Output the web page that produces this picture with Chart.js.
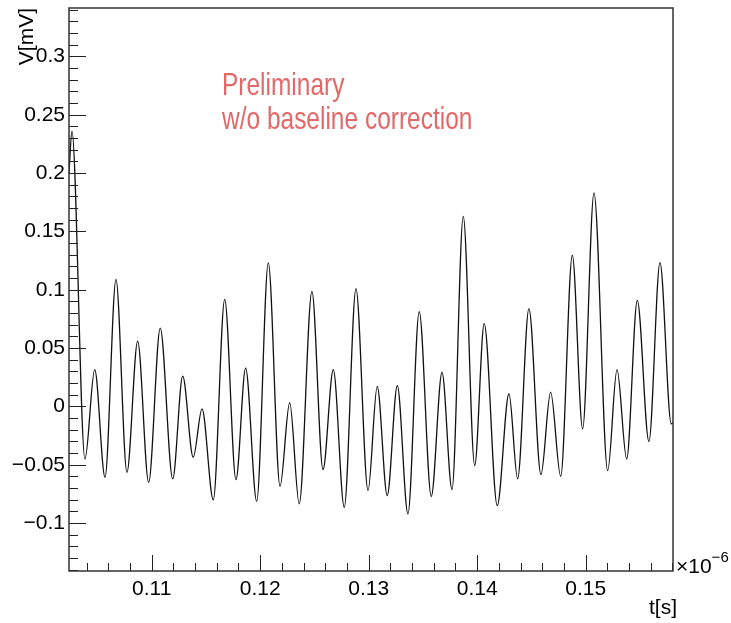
<!DOCTYPE html>
<html>
<head>
<meta charset="utf-8">
<title>Waveform</title>
<script src="https://cdn.jsdelivr.net/npm/chart.js@4.4.1/dist/chart.umd.min.js"></script>
<style>
    html, body { margin: 0; padding: 0; background: #fff; }
    #wrap { width: 731px; height: 623px; }
</style>
</head>
<body>
<div id="wrap"><canvas id="waveChart" width="731" height="623"></canvas></div>
<script>
/* -------------------------------
   Data (time in units of 1e-6 s, voltage in mV)
--------------------------------*/
const tMicro = [
    0.10238, 0.10265, 0.10385, 0.10475, 0.10570, 0.10671, 0.10772, 0.10871, 0.10972, 0.11079,
    0.11194, 0.11286, 0.11383, 0.11464, 0.11568, 0.11673, 0.11777, 0.11866, 0.11968, 0.12075,
    0.12183, 0.12272, 0.12360, 0.12477, 0.12579, 0.12674, 0.12775, 0.12883, 0.12994, 0.13079,
    0.13171, 0.13264, 0.13362, 0.13466, 0.13577, 0.13676, 0.13768, 0.13872, 0.13977, 0.14065,
    0.14185, 0.14293, 0.14373, 0.14477, 0.14588, 0.14677, 0.14770, 0.14877, 0.14972, 0.15077,
    0.15203, 0.15289, 0.15378, 0.15476, 0.15583, 0.15685, 0.15789, 0.15805
];

const voltage = [
    0.200, 0.236, -0.045, 0.0315, -0.0607, 0.109, -0.0564, 0.056, -0.065, 0.0672,
    -0.062, 0.026, -0.0435, -0.002, -0.080, 0.0918, -0.0627, 0.0329, -0.0813, 0.123,
    -0.0684, 0.0032, -0.0835, 0.0987, -0.054, 0.0315, -0.0864, 0.101, -0.0721, 0.0172,
    -0.0764, 0.0178, -0.0921, 0.0813, -0.077, 0.0292, -0.0712, 0.163, -0.0506, 0.071,
    -0.085, 0.0109, -0.062, 0.0838, -0.0584, 0.0123, -0.0598, 0.1296, -0.0192, 0.183,
    -0.055, 0.0315, -0.0449, 0.091, -0.030, 0.1233, -0.0149, -0.0140
];

const xTickValues = [0.11, 0.12, 0.13, 0.14, 0.15];
const xTickLabels = ["0.11", "0.12", "0.13", "0.14", "0.15"];

const yTickValues = [-0.1, -0.05, 0, 0.05, 0.1, 0.15, 0.2, 0.25, 0.3];
const yTickLabels = ["\u22120.1", "\u22120.05", "0", "0.05", "0.1", "0.15", "0.2", "0.25", "0.3"];

const X_RANGE = [0.10238, 0.15805];
const Y_RANGE = [-0.141, 0.3415];

const FONT = "'Liberation Sans', Arial, Helvetica, sans-serif";
const NOTE_COLOR = "#e36868";

/* -------------------------------
   ROOT style frame + inward ticks
--------------------------------*/
const frameTicks = {
    id: "frameTicks",
    afterDraw(chart) {
        const { ctx, chartArea: a, scales: { x, y } } = chart;
        ctx.save();
        ctx.strokeStyle = "#222";
        ctx.lineWidth = 1;

        // x axis: minor every 0.002, major every 0.01
        ctx.beginPath();
        for (let k = 52; k <= 79; k++) {
            const px = Math.round(x.getPixelForValue(k * 0.002)) + 0.5;
            if (px < a.left || px > a.right) continue;
            const len = (k % 5 === 0) ? 16 : 8;
            ctx.moveTo(px, a.bottom);
            ctx.lineTo(px, a.bottom - len);
        }
        // y axis: minor every 0.01, major every 0.05
        for (let k = -14; k <= 34; k++) {
            const py = Math.round(y.getPixelForValue(k * 0.01)) + 0.5;
            if (py < a.top || py > a.bottom) continue;
            const len = (k % 5 === 0) ? 17 : 9;
            ctx.moveTo(a.left, py);
            ctx.lineTo(a.left + len, py);
        }
        ctx.stroke();

        // frame
        ctx.lineWidth = 1.5;
        ctx.strokeStyle = "#333";
        ctx.strokeRect(a.left, a.top, a.right - a.left, a.bottom - a.top);

        // axis titles
        ctx.fillStyle = "#000";
        ctx.font = "21px " + FONT;
        ctx.textBaseline = "alphabetic";

        ctx.textAlign = "right";
        ctx.fillText("t[s]", a.right + 4, 614);

        ctx.save();
        ctx.translate(33, a.top);
        ctx.rotate(-Math.PI / 2);
        ctx.textAlign = "right";
        ctx.fillText("V[mV]", 0, 0);
        ctx.restore();

        // exponent of x axis
        ctx.textAlign = "left";
        ctx.fillText("\u00d710", a.right + 3, 573);
        const w = ctx.measureText("\u00d710").width;
        ctx.font = "15px " + FONT;
        ctx.fillText("\u22126", a.right + 3 + w, 562);

        // note (narrow, tall lettering)
        ctx.fillStyle = NOTE_COLOR;
        ctx.font = "32px " + FONT;
        ctx.save();
        ctx.translate(222, 0);
        ctx.scale(0.765, 1);
        ctx.fillText("Preliminary", 0, 95);
        ctx.fillText("w/o baseline correction", 0, 129);
        ctx.restore();

        ctx.restore();
    }
};

/* -------------------------------
   Chart
--------------------------------*/
function drawWaveform() {
    const ctx = document.getElementById("waveChart").getContext("2d");
    const points = tMicro.map((t, i) => ({ x: t, y: voltage[i] }));

    new Chart(ctx, {
        type: "line",
        data: {
            datasets: [{
                data: points,
                borderColor: "#111",
                borderWidth: 1.3,
                pointRadius: 0,
                fill: false,
                cubicInterpolationMode: "monotone"
            }]
        },
        options: {
            responsive: false,
            animation: false,
            layout: { padding: { top: 8, right: 58, left: 0, bottom: 0 } },
            plugins: { legend: { display: false }, tooltip: { enabled: false } },
            scales: {
                x: {
                    type: "linear",
                    min: X_RANGE[0],
                    max: X_RANGE[1],
                    grid: { display: false, drawTicks: false },
                    border: { display: false },
                    afterBuildTicks: s => { s.ticks = xTickValues.map(v => ({ value: v })); },
                    afterFit: s => {
                        s.height = 52;
                        s.paddingLeft = 0;
                        s.paddingRight = 0;
                    },
                    ticks: {
                        autoSkip: false,
                        maxRotation: 0,
                        padding: 6,
                        color: "#000",
                        font: { family: FONT, size: 21 },
                        callback: (v, i) => xTickLabels[i]
                    }
                },
                y: {
                    type: "linear",
                    min: Y_RANGE[0],
                    max: Y_RANGE[1],
                    grid: { display: false, drawTicks: false },
                    border: { display: false },
                    afterBuildTicks: s => { s.ticks = yTickValues.map(v => ({ value: v })); },
                    afterFit: s => {
                        s.width = 69;
                        s.paddingTop = 0;
                        s.paddingBottom = 0;
                    },
                    ticks: {
                        autoSkip: false,
                        padding: 4,
                        color: "#000",
                        font: { family: FONT, size: 21 },
                        callback: (v, i) => yTickLabels[i]
                    }
                }
            }
        },
        plugins: [frameTicks]
    });
}

document.addEventListener("DOMContentLoaded", drawWaveform);
</script>
</body>
</html>
